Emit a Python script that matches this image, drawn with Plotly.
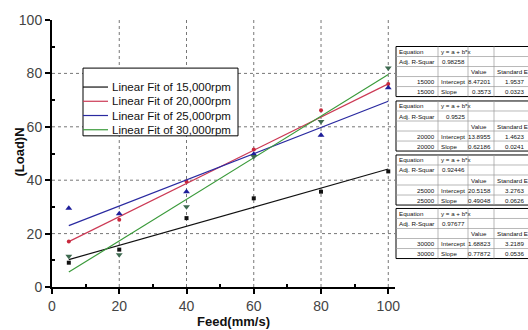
import plotly.graph_objects as go

# Measured load at each feed rate, one list per spindle speed
feed = [5, 20, 40, 60, 80, 100]
load_15k = [9.1, 14.0, 25.8, 33.2, 35.7, 43.3]
load_20k = [17.0, 25.2, 39.5, 51.5, 66.2, 76.0]
load_25k = [29.5, 27.4, 35.7, 49.7, 56.8, 74.6]
load_30k = [11.5, 12.1, 30.1, 48.9, 62.0, 82.0]

# Linear fit results (y = a + b*x)
speeds = ["15000", "20000", "25000", "30000"]
fit_names = ["Linear Fit of 15,000rpm", "Linear Fit of 20,000rpm",
             "Linear Fit of 25,000rpm", "Linear Fit of 30,000rpm"]
intercepts = [8.47201, 13.8955, 20.5158, 1.68823]
slopes = [0.3573, 0.62186, 0.49048, 0.77872]
adj_r2 = ["0.98258", "0.9525", "0.92446", "0.97677"]
se_intercept = ["1.9537", "1.4623", "3.2763", "3.2189"]
se_slope = ["0.0323", "0.0241", "0.0626", "0.0536"]
fit_x = [5, 100]

series = [load_15k, load_20k, load_25k, load_30k]
line_colors = ["#111111", "#cc3a55", "#2a2aa0", "#3a9a3a"]
marker_colors = ["#111111", "#c8283c", "#1e1e9a", "#3e6a50"]
symbols = ["square", "circle", "triangle-up", "triangle-down"]
msizes = [4, 4, 6, 6]

W, H = 528, 330
L, R, T, B = 52, 395, 15, 287


def px(x):
    return (x - L) / (R - L)


def py(y):
    return (B - y) / (B - T)


fig = go.Figure()

for ys, name, lc, mc, sym, ms, a, b in zip(series, fit_names, line_colors,
                                           marker_colors, symbols, msizes,
                                           intercepts, slopes):
    fig.add_trace(go.Scatter(x=fit_x, y=[a + b * v for v in fit_x], mode="lines",
                             line=dict(color=lc, width=1.2), name=name,
                             showlegend=False))
    fig.add_trace(go.Scatter(x=feed, y=ys, mode="markers",
                             marker=dict(symbol=sym, size=ms, color=mc),
                             showlegend=False))

shapes = []
annotations = []

# dotted grid
for gx in [20, 40, 60, 80, 100]:
    shapes.append(dict(type="line", xref="x", yref="y", x0=gx, x1=gx, y0=0, y1=100,
                       line=dict(color="#777777", width=1, dash="dot"), layer="below"))
for gy in [20, 40, 60, 80]:
    shapes.append(dict(type="line", xref="x", yref="y", x0=0, x1=102, y0=gy, y1=gy,
                       line=dict(color="#777777", width=1, dash="dot"), layer="below"))

# legend box
shapes.append(dict(type="rect", xref="paper", yref="paper", x0=px(83), x1=px(238),
                   y0=py(133), y1=py(64), fillcolor="white",
                   line=dict(color="black", width=1), layer="above"))
for i, (name, lc) in enumerate(zip(fit_names, line_colors)):
    yy = 83.3 + i * 14.5
    shapes.append(dict(type="line", xref="paper", yref="paper", x0=px(83), x1=px(108),
                       y0=py(yy), y1=py(yy), line=dict(color=lc, width=1.2), layer="above"))
    annotations.append(dict(xref="paper", yref="paper", x=px(110), y=py(yy),
                            xanchor="left", yanchor="middle", showarrow=False,
                            text=name, font=dict(size=11.5, color="#111111",
                                                 family="Arial, Liberation Sans")))

# fit result tables
cols = [396, 438, 468, 494, 560]
tops = [42, 97.5, 152.5, 207]
rh = 10.2
tfont = dict(size=6.2, color="#111111", family="Arial, Liberation Sans")
for k, top in enumerate(tops):
    bot = top + 5 * rh
    shapes.append(dict(type="rect", xref="paper", yref="paper", x0=px(cols[0]),
                       x1=px(cols[-1]), y0=py(bot), y1=py(top), fillcolor="white",
                       line=dict(color="black", width=1), layer="above"))
    for r in range(1, 5):
        yy = top + r * rh
        shapes.append(dict(type="line", xref="paper", yref="paper", x0=px(cols[0]),
                           x1=px(cols[-1]), y0=py(yy), y1=py(yy),
                           line=dict(color="#9a9a9a", width=0.7), layer="above"))
    for c in cols[1:-1]:
        shapes.append(dict(type="line", xref="paper", yref="paper", x0=px(c), x1=px(c),
                           y0=py(bot), y1=py(top),
                           line=dict(color="#9a9a9a", width=0.7), layer="above"))
    cells = [
        (0, 0, "Equation", "left"), (0, 1, "y = a + b*x", "left"),
        (1, 0, "Adj. R-Squar", "left"), (1, 1, adj_r2[k], "right"),
        (2, 2, "Value", "left"), (2, 3, "Standard E", "left"),
        (3, 0, speeds[k], "right"), (3, 1, "Intercept", "left"),
        (3, 2, f"{intercepts[k]:g}", "right"), (3, 3, se_intercept[k], "right"),
        (4, 0, speeds[k], "right"), (4, 1, "Slope", "left"),
        (4, 2, f"{slopes[k]:g}", "right"), (4, 3, se_slope[k], "right"),
    ]
    for r, c, txt, al in cells:
        if c == 3 and al == "right":
            xx = 526
        elif al == "left":
            xx = cols[c] + 1.2
        else:
            xx = cols[c + 1] - 1.2
        annotations.append(dict(xref="paper", yref="paper", x=px(xx),
                                y=py(top + (r + 0.5) * rh), xanchor=al,
                                yanchor="middle", showarrow=False, text=txt,
                                font=tfont))

# axis titles
annotations.append(dict(xref="paper", yref="paper", x=px(233), y=py(322),
                        xanchor="center", yanchor="middle", showarrow=False,
                        text="<b>Feed(mm/s)</b>",
                        font=dict(size=13, color="#111111", family="Arial, Liberation Sans")))
annotations.append(dict(xref="paper", yref="paper", x=px(20), y=py(150),
                        xanchor="center", yanchor="middle", showarrow=False,
                        text="<b>(Load)N</b>", textangle=-90,
                        font=dict(size=13, color="#111111", family="Arial, Liberation Sans")))

axis_common = dict(showline=True, linecolor="black", linewidth=2, showgrid=False,
                   zeroline=False, ticks="outside", ticklen=5, tickwidth=2,
                   tickcolor="black", mirror=False,
                   tickfont=dict(size=14, color="#444444", family="Arial, Liberation Sans"))

fig.update_layout(
    width=W, height=H,
    margin=dict(l=L, r=W - R, t=T, b=H - B),
    paper_bgcolor="white", plot_bgcolor="white",
    showlegend=False,
    shapes=shapes, annotations=annotations,
    xaxis=dict(range=[0, 102], tickvals=[0, 20, 40, 60, 80, 100],
               minor=dict(tickvals=[10, 30, 50, 70, 90], ticks="inside", ticklen=3,
                          tickwidth=2, tickcolor="black"),
               **axis_common),
    yaxis=dict(range=[0, 100], tickvals=[0, 20, 40, 60, 80, 100],
               minor=dict(tickvals=[10, 30, 50, 70, 90], ticks="inside", ticklen=3,
                          tickwidth=2, tickcolor="black"),
               **axis_common),
)

fig.write_html("out.html")
